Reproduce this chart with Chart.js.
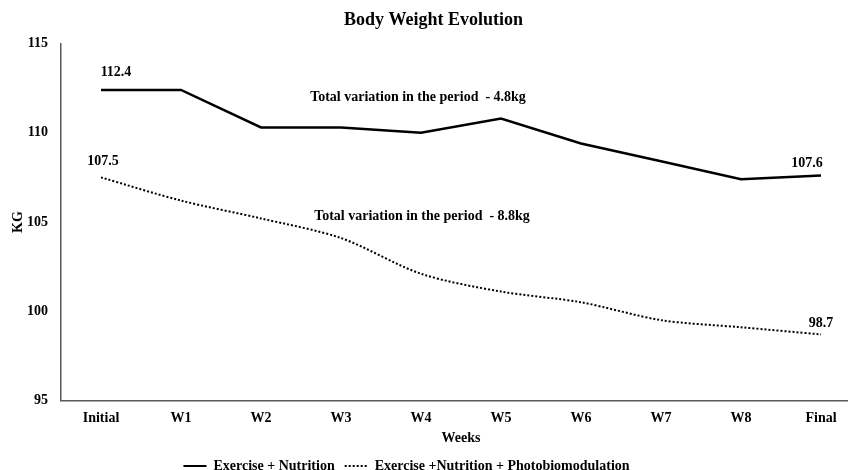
<!DOCTYPE html>
<html lang="en">
<head>
  <meta charset="UTF-8" />
  <title>Body Weight Evolution</title>
  <script src="https://cdn.jsdelivr.net/npm/chart.js"></script>
  <style>
    html, body { margin: 0; padding: 0; background: #fff; overflow: hidden; }
    #wrap { width: 848px; height: 470px; overflow: hidden; }
    #box { width: 868px; height: 470px; }
  </style>
</head>
<body>
  <div id="wrap"><div id="box"><canvas id="weightChart"></canvas></div></div>

  <script>
    const weeks = ['Initial', 'W1', 'W2', 'W3', 'W4', 'W5', 'W6', 'W7', 'W8', 'Final'];
    const exerciseNutrition = [112.4, 112.4, 110.3, 110.3, 110.0, 110.8, 109.4, 108.4, 107.4, 107.6];
    const withPhotobiomodulation = [107.5, 106.2, 105.2, 104.1, 102.1, 101.1, 100.5, 99.5, 99.1, 98.7];
    const seriesNames = ['Exercise + Nutrition', 'Exercise +Nutrition + Photobiomodulation'];
    const yTicks = [95, 100, 105, 110, 115];
    const variationNotes = ['Total variation in the period  - 4.8kg', 'Total variation in the period  - 8.8kg'];

    const serif = 'Liberation Serif, Times New Roman, serif';

    // value labels at first / last point + the two "total variation" notes
    const notesPlugin = {
      id: 'notes',
      afterDatasetsDraw(chart) {
        const ctx = chart.ctx;
        const xs = chart.scales.x, ys = chart.scales.y;
        const last = weeks.length - 1;
        ctx.save();
        ctx.fillStyle = '#000';
        ctx.font = 'bold 14px ' + serif;
        ctx.textBaseline = 'middle';
        ctx.textAlign = 'center';
        ctx.fillText(exerciseNutrition[0].toFixed(1), xs.getPixelForValue(0) + 15, ys.getPixelForValue(exerciseNutrition[0]) - 18);
        ctx.fillText(withPhotobiomodulation[0].toFixed(1), xs.getPixelForValue(0) + 2, ys.getPixelForValue(withPhotobiomodulation[0]) - 16);
        ctx.fillText(exerciseNutrition[last].toFixed(1), xs.getPixelForValue(last) - 14, ys.getPixelForValue(exerciseNutrition[last]) - 12);
        ctx.fillText(withPhotobiomodulation[last].toFixed(1), xs.getPixelForValue(last), ys.getPixelForValue(withPhotobiomodulation[last]) - 11);

        ctx.fillText(variationNotes[0], xs.getPixelForValue(3) + 77, ys.getPixelForValue(112.0));
        ctx.fillText(variationNotes[1], xs.getPixelForValue(4) + 1, ys.getPixelForValue(105.3));
        ctx.restore();
      }
    };

    // small nudges: legend sits left of centre, title slightly right
    const boxShift = {
      id: 'boxShift',
      afterLayout(chart) {
        chart.legend.left -= 24;
        chart.legend.right -= 24;
        chart.titleBlock.left += 3;
        chart.titleBlock.right += 3;
      }
    };

    new Chart(document.getElementById('weightChart'), {
      type: 'line',
      data: {
        labels: weeks,
        datasets: [
          {
            label: seriesNames[0],
            data: exerciseNutrition,
            borderColor: '#000',
            borderWidth: 2.5,
            pointRadius: 0,
            tension: 0
          },
          {
            label: seriesNames[1],
            data: withPhotobiomodulation,
            borderColor: '#000',
            borderWidth: 2,
            borderDash: [2, 2],
            pointRadius: 0,
            tension: 0.3
          }
        ]
      },
      options: {
        responsive: true,
        maintainAspectRatio: false,
        animation: false,
        layout: { padding: { left: 0, right: 7, top: 0, bottom: -13 } },
        plugins: {
          title: {
            display: true,
            text: 'Body Weight Evolution',
            color: '#000',
            font: { family: serif, size: 18, weight: 'bold' },
            padding: { top: 10, bottom: 12 }
          },
          legend: {
            position: 'bottom',
            labels: {
              color: '#000',
              font: { family: serif, size: 14, weight: 'bold' },
              usePointStyle: true,
              pointStyle: 'line',
              pointStyleWidth: 23,
              padding: 10,
              generateLabels: chart => Chart.defaults.plugins.legend.labels.generateLabels(chart).map((item, i) =>
                Object.assign(item, { lineDash: chart.data.datasets[i].borderDash || [], lineWidth: 2 }))
            }
          },
          tooltip: { enabled: false }
        },
        scales: {
          x: {
            offset: true,
            afterFit: axis => { axis.height -= 10; },
            grid: { display: false, drawTicks: false },
            border: { color: '#595959', width: 1.5 },
            ticks: { color: '#000', padding: 10, font: { family: serif, size: 14, weight: 'bold' } },
            title: {
              display: true,
              text: 'Weeks',
              color: '#000',
              font: { family: serif, size: 14, weight: 'bold' },
              padding: { top: 3, bottom: 2 }
            }
          },
          y: {
            min: yTicks[0],
            max: yTicks[yTicks.length - 1],
            afterBuildTicks: axis => { axis.ticks = yTicks.map(v => ({ value: v })); },
            afterFit: axis => { axis.width = 61; },
            grid: { display: false, drawTicks: false },
            border: { color: '#595959', width: 1.5 },
            ticks: { color: '#000', padding: 13, font: { family: serif, size: 14, weight: 'bold' } },
            title: {
              display: true,
              text: 'KG',
              color: '#000',
              font: { family: serif, size: 14, weight: 'bold' },
              padding: { top: 10, bottom: 0 }
            }
          }
        }
      },
      plugins: [notesPlugin, boxShift]
    });
  </script>
</body>
</html>
